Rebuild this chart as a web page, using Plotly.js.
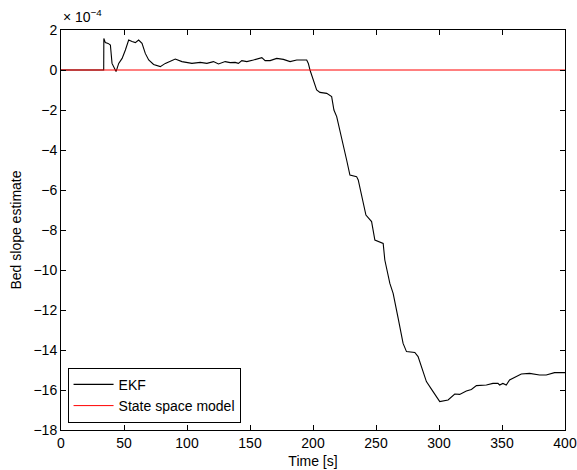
<!DOCTYPE html>
<html>
<head>
<meta charset="utf-8">
<script src="https://cdn.plot.ly/plotly-3.0.1.min.js"></script>
<style>html,body{margin:0;padding:0;background:#fff;}#chart{width:577px;height:470px;}</style>
</head>
<body>
<div id="chart"></div>
<script>
// Values in units of 1e-4
const timeEKF = [0, 33.9, 34.0, 35.2, 37.4, 39.2, 40.5, 41.8, 43.7, 45.8, 48.5, 51.1, 53.7, 56.4, 59.0, 61.6, 64.3, 66.9, 69.6, 73.5, 78.8, 82.8, 90.7, 96.0, 103.9, 110.5, 115.8, 121.0, 125.0, 130.3, 134.3, 138.2, 140.8, 143.5, 147.5, 152.7, 159.4, 162.0, 166.0, 171.2, 176.5, 181.8, 187.1, 195.0, 196.3, 197.6, 202.9, 205.5, 210.9, 214.8, 216.6, 218.8, 222.7, 226.7, 229.3, 234.6, 235.9, 242.0, 246.5, 249.1, 255.7, 257.0, 261.0, 263.6, 267.6, 271.5, 274.2, 280.8, 283.4, 286.1, 290.0, 295.3, 300.6, 307.2, 312.5, 316.4, 321.7, 325.7, 329.7, 337.6, 342.8, 346.8, 348.1, 350.7, 353.4, 356.0, 361.3, 365.3, 371.9, 379.8, 385.1, 391.7, 400];
const slopeEKF = [0, 0, 1.58, 1.37, 1.33, 1.25, 0.33, 0.17, -0.08, 0.33, 0.58, 1.0, 1.5, 1.42, 1.37, 1.5, 1.33, 0.83, 0.5, 0.28, 0.17, 0.33, 0.55, 0.42, 0.33, 0.38, 0.33, 0.42, 0.3, 0.42, 0.37, 0.38, 0.33, 0.47, 0.42, 0.5, 0.62, 0.47, 0.47, 0.58, 0.53, 0.42, 0.5, 0.5, 0.33, 0.0, -1.0, -1.12, -1.17, -1.33, -2.0, -2.33, -3.33, -4.5, -5.25, -5.33, -5.5, -7.25, -7.58, -8.5, -8.67, -9.5, -10.67, -11.17, -12.42, -13.67, -14.08, -14.12, -14.33, -14.83, -15.58, -16.08, -16.58, -16.5, -16.2, -16.22, -16.05, -15.97, -15.78, -15.75, -15.67, -15.67, -15.75, -15.67, -15.75, -15.5, -15.33, -15.2, -15.17, -15.25, -15.25, -15.13, -15.13];
const timeModel = [0, 400];
const slopeModel = [0, 0];
const xTicks = [0, 50, 100, 150, 200, 250, 300, 350, 400];
const yTicks = [2, 0, -2, -4, -6, -8, -10, -12, -14, -16, -18];

const font = {family: 'Liberation Sans, Arial, sans-serif', size: 14, color: '#000'};
const axisCommon = {
  showline: true, linecolor: '#000', linewidth: 1, mirror: 'ticks',
  ticks: 'inside', ticklen: 5, tickcolor: '#000', tickwidth: 1,
  showgrid: false, zeroline: false, tickfont: font
};
const data = [
  {x: timeEKF, y: slopeEKF, type: 'scatter', mode: 'lines', name: 'EKF', line: {color: '#000', width: 1.1}},
  {x: timeModel, y: slopeModel, type: 'scatter', mode: 'lines', name: 'State space model', line: {color: '#ff0000', width: 1}}
];
const layout = {
  width: 577, height: 470,
  margin: {l: 60.5, r: 12, t: 30, b: 40},
  paper_bgcolor: '#fff', plot_bgcolor: '#fff',
  font: font,
  showlegend: true,
  legend: {x: 0.013, y: 0.018, xanchor: 'left', yanchor: 'bottom', bordercolor: '#000', borderwidth: 1, bgcolor: '#fff', font: {family: font.family, size: 14, color: '#000'}, tracegroupgap: 0, itemwidth: 40},
  xaxis: Object.assign({}, axisCommon, {range: [0, 400], tickvals: xTicks, title: {text: 'Time [s]', font: {family: font.family, size: 14}, standoff: 6}}),
  yaxis: Object.assign({}, axisCommon, {range: [-18, 2], tickvals: yTicks, title: {text: 'Bed slope estimate', font: {family: font.family, size: 14}, standoff: 8}}),
  annotations: [{xref: 'paper', yref: 'paper', x: 0, y: 1, xanchor: 'left', yanchor: 'bottom', yshift: 3, showarrow: false, text: '× 10<sup>−4</sup>', font: {family: font.family, size: 14, color: '#000'}}]
};
Plotly.newPlot('chart', data, layout, {displayModeBar: false, staticPlot: true});
</script>
</body>
</html>
